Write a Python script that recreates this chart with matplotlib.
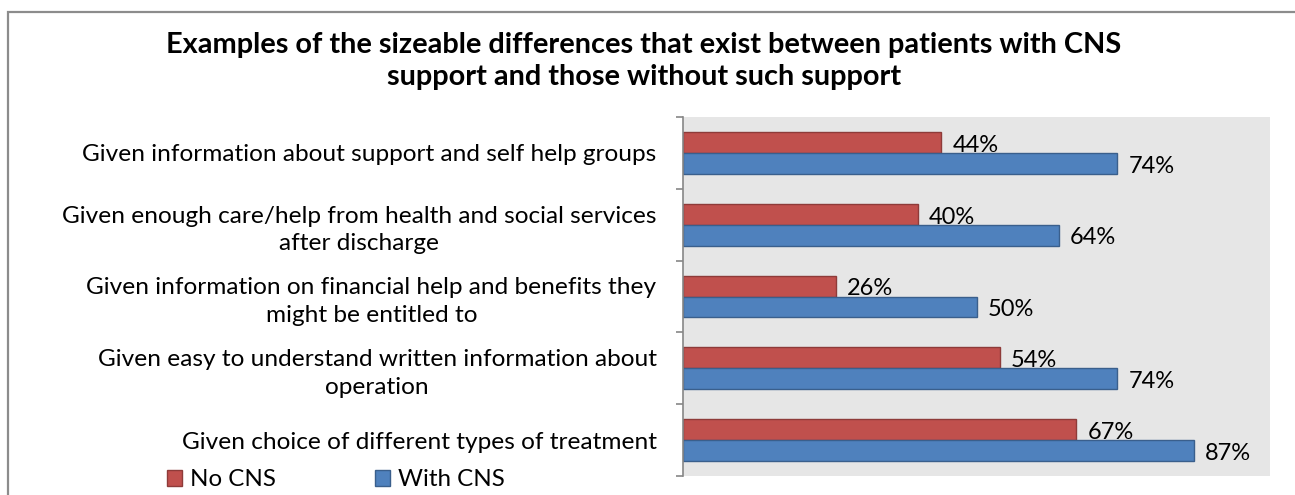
import matplotlib.pyplot as plt
from matplotlib.patches import Rectangle

categories = [
    "Given information about support and self help groups",
    "Given enough care/help from health and social services\nafter discharge",
    "Given information on financial help and benefits they\nmight be entitled to",
    "Given easy to understand written information about\noperation",
    "Given choice of different types of treatment",
]
no_cns = [44, 40, 26, 54, 67]
with_cns = [74, 64, 50, 74, 87]
series_names = ["No CNS", "With CNS"]

plt.rcParams['font.family'] = ['Lato', 'DejaVu Sans']

W, H = 1295, 495
fig = plt.figure(figsize=(W / 100, H / 100), dpi=100)

# outer chart border (cut off at right and bottom like the original)
fig.patches.append(Rectangle((7.5 / W, -0.1), 1.2, (H - 11.5) / H + 0.1,
                             transform=fig.transFigure, fill=False,
                             edgecolor='#8c8c8c', lw=1.6))

ax = fig.add_axes([683 / W, (H - 476) / H, (1270 - 683) / W, (476 - 117) / H])
ax.set_facecolor('#e6e6e6')

pos = list(range(len(categories)))
h = 0.29
red = ax.barh([p - h / 2 for p in pos], no_cns, height=h, color='#c0504d',
              edgecolor='#8e3b39', lw=1.0, label=series_names[0])
blue = ax.barh([p + h / 2 for p in pos], with_cns, height=h, color='#4f81bd',
               edgecolor='#3a5f8c', lw=1.0, label=series_names[1])
for bars, vals in [(red, no_cns), (blue, with_cns)]:
    for t in ax.bar_label(bars, labels=[f"{v}%" for v in vals], padding=8, fontsize=17):
        t.set_y(-2)

ax.set_xlim(0, 100)
ax.set_ylim(len(categories) - 0.5, -0.5)
ax.set_xticks([])
ax.set_yticks(pos)
ax.set_yticklabels(categories, fontsize=17.6)
for t in ax.get_yticklabels():
    t.set_multialignment('center')
    t.set_linespacing(1.4)
ax.set_yticks([p - 0.5 for p in range(len(categories) + 1)], minor=True)
ax.tick_params(axis='y', which='major', length=0, pad=19)
ax.tick_params(axis='y', which='minor', length=5, color='#868686', width=1.2)
for s in ['top', 'right', 'bottom']:
    ax.spines[s].set_visible(False)
ax.spines['left'].set_color('#868686')
ax.spines['left'].set_linewidth(1.2)

fig.text(0.497, (H - 61) / H,
         "Examples of the sizeable differences that exist between patients with CNS\n"
         "support and those without such support",
         ha='center', va='center', fontsize=20.8, fontweight='bold', linespacing=1.25)

fig.legend(handles=[red, blue], labels=series_names, loc='center left',
           bbox_to_anchor=(155 / W, (H - 480) / H), ncol=2, frameon=False,
           fontsize=17.4, handlelength=0.6, handleheight=0.6, handletextpad=0.35,
           columnspacing=4.1, borderpad=0)

fig.savefig("out.png", dpi=100)
